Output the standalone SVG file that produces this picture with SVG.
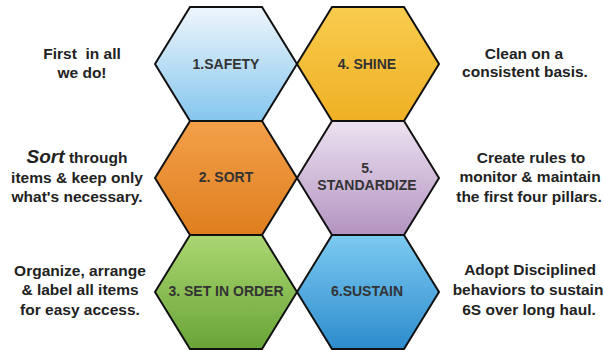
<svg xmlns="http://www.w3.org/2000/svg" width="604" height="350" viewBox="0 0 604 350">
<defs>
<linearGradient id="gSafety" x1="0" y1="0" x2="0" y2="1"><stop offset="0" stop-color="#eef6fc"/><stop offset="1" stop-color="#86c6ee"/></linearGradient>
<linearGradient id="gShine" x1="0" y1="0" x2="0" y2="1"><stop offset="0" stop-color="#f9cc4e"/><stop offset="1" stop-color="#efb024"/></linearGradient>
<linearGradient id="gSort" x1="0" y1="0" x2="0" y2="1"><stop offset="0" stop-color="#f3a04a"/><stop offset="1" stop-color="#df7e1e"/></linearGradient>
<linearGradient id="gStd" x1="0" y1="0" x2="0" y2="1"><stop offset="0" stop-color="#ece2f1"/><stop offset="1" stop-color="#b393c1"/></linearGradient>
<linearGradient id="gOrder" x1="0" y1="0" x2="0" y2="1"><stop offset="0" stop-color="#abd772"/><stop offset="1" stop-color="#69a437"/></linearGradient>
<linearGradient id="gSustain" x1="0" y1="0" x2="0" y2="1"><stop offset="0" stop-color="#7ccaf1"/><stop offset="1" stop-color="#2d8ccd"/></linearGradient>
</defs>
<style>
.hex{stroke:#111;stroke-width:2;stroke-linejoin:miter}
.lbl{font-family:"Liberation Sans",Arial,sans-serif;font-weight:bold;font-size:14px;fill:#333;text-anchor:middle}
.side{font-family:"Liberation Sans",Arial,sans-serif;font-weight:bold;font-size:15.5px;fill:#222;text-anchor:middle}
.it{font-style:italic;font-size:19px}
</style>
<rect width="604" height="350" fill="#fff"/>
<g id="safety">
<polygon class="hex" fill="url(#gSafety)" points="155,64 190,7 262,7 297,64 262,121 190,121"/>
<text class="lbl" x="226" y="69">1.SAFETY</text>
</g>
<g id="shine">
<polygon class="hex" fill="url(#gShine)" points="297,64 332,7 404,7 439,64 404,121 332,121"/>
<text class="lbl" x="367" y="69">4. SHINE</text>
</g>
<g id="sort">
<polygon class="hex" fill="url(#gSort)" points="155,178 190,121 262,121 297,178 262,235 190,235"/>
<text class="lbl" x="226" y="182">2. SORT</text>
</g>
<g id="standardize">
<polygon class="hex" fill="url(#gStd)" points="297,178 332,121 404,121 439,178 404,235 332,235"/>
<text class="lbl" x="367" y="173">5.</text>
<text class="lbl" x="367" y="190">STANDARDIZE</text>
</g>
<g id="setinorder">
<polygon class="hex" fill="url(#gOrder)" points="155,292 190,235 262,235 297,292 262,349 190,349"/>
<text class="lbl" x="226" y="296">3. SET IN ORDER</text>
</g>
<g id="sustain">
<polygon class="hex" fill="url(#gSustain)" points="297,292 332,235 404,235 439,292 404,349 332,349"/>
<text class="lbl" x="367" y="296">6.SUSTAIN</text>
</g>
<g id="connectors"/>
<g id="note-safety">
<text class="side" x="82" y="59" xml:space="preserve">First  in all</text>
<text class="side" x="82" y="78">we do!</text>
</g>
<g id="note-sort">
<text class="side" x="77" y="163"><tspan class="it">Sort</tspan> through</text>
<text class="side" x="77" y="183">items &amp; keep only</text>
<text class="side" x="77" y="202">what's necessary.</text>
</g>
<g id="note-order">
<text class="side" x="80" y="276">Organize, arrange</text>
<text class="side" x="80" y="295">&amp; label all items</text>
<text class="side" x="80" y="315">for easy access.</text>
</g>
<g id="note-shine">
<text class="side" x="524" y="59">Clean on a</text>
<text class="side" x="525" y="77">consistent basis.</text>
</g>
<g id="note-standardize">
<text class="side" x="531" y="163">Create rules to</text>
<text class="side" x="530" y="182">monitor &amp; maintain</text>
<text class="side" x="529" y="202">the first four pillars.</text>
</g>
<g id="note-sustain">
<text class="side" x="530" y="275">Adopt Disciplined</text>
<text class="side" x="528" y="295">behaviors to sustain</text>
<text class="side" x="529" y="315">6S over long haul.</text>
</g>
</svg>
